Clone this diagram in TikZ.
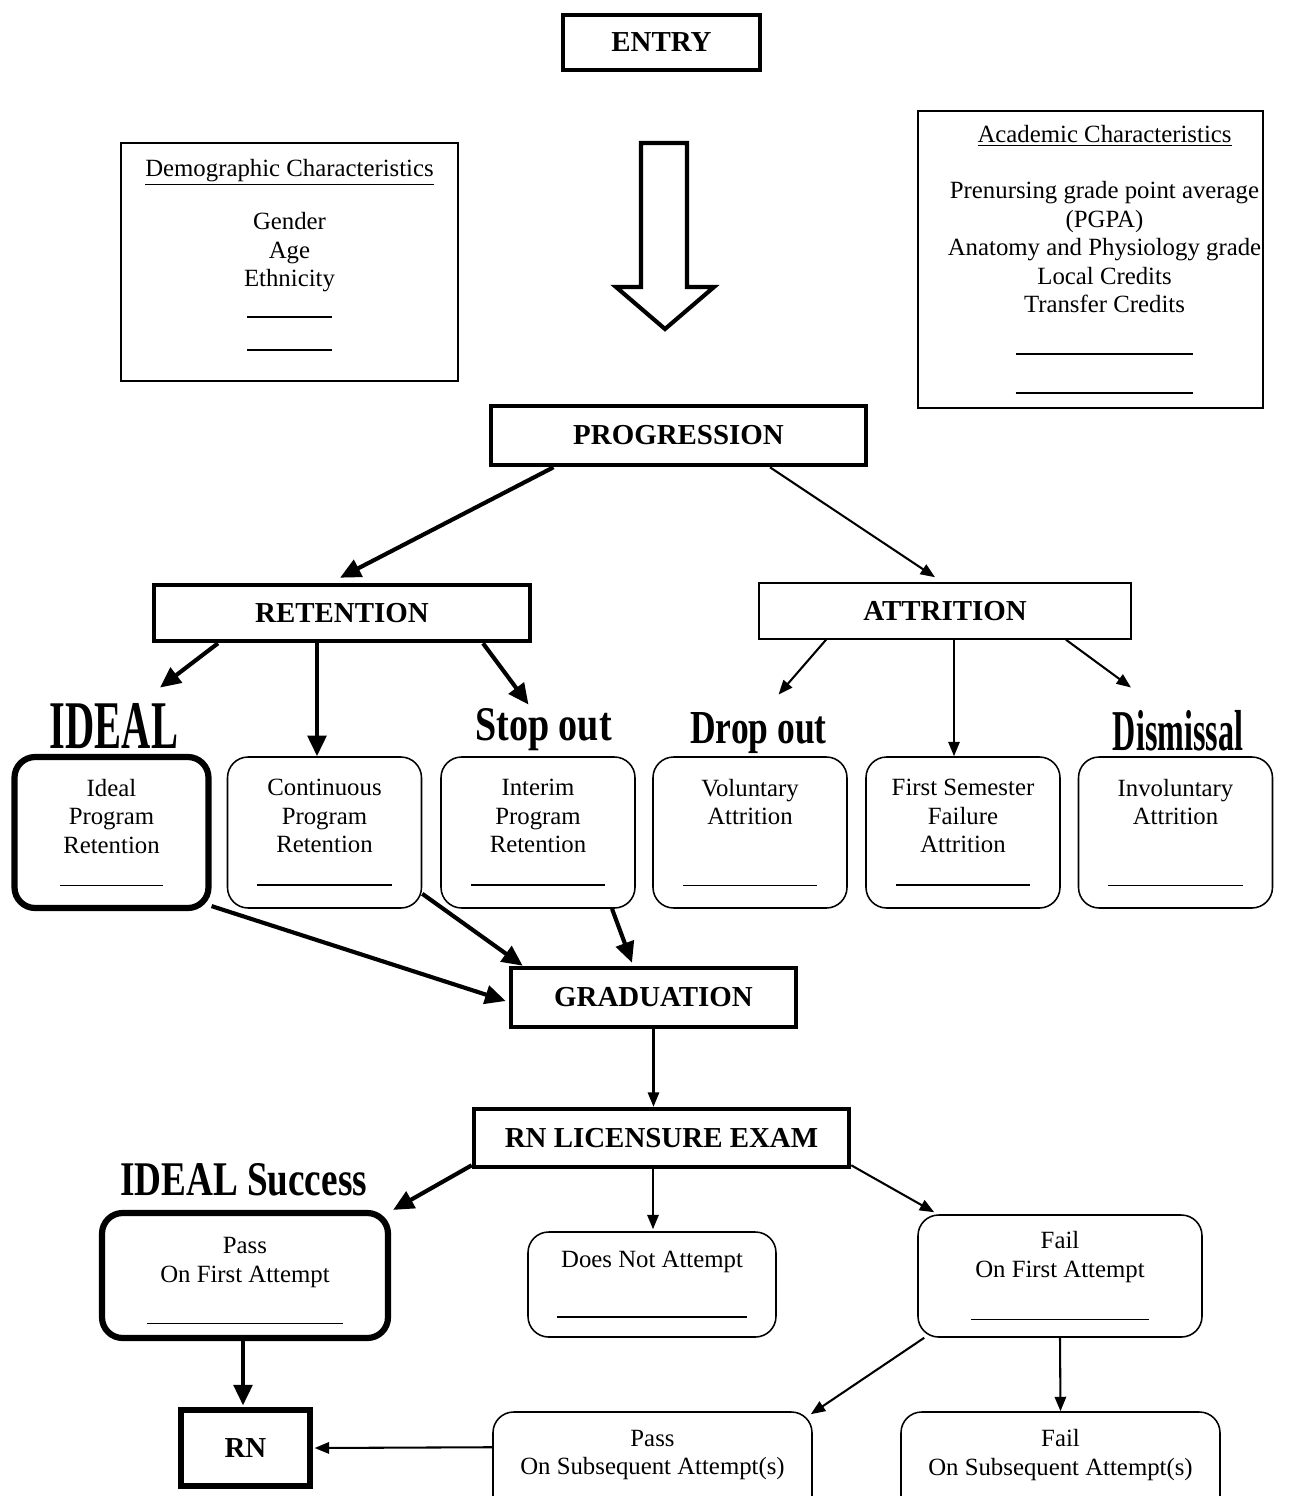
\documentclass[tikz,border=0pt]{standalone}
\usepackage{fontspec}
\setmainfont{Liberation Serif}
\usepackage{graphicx}
\usetikzlibrary{arrows.meta,calc}
\newcommand{\pxu}{0.484pt}
\newcommand{\blank}[1]{\rule{#1}{0.7pt}}
\newcommand{\nudge}{\hspace*{13.55pt}}
\newcommand{\squeeze}[3]{\resizebox{#1}{#2}{\bfseries #3}}

\begin{document}
\begin{tikzpicture}[x=0.484pt,y=-0.484pt,
  dims/.style 2 args={minimum width=#1*\pxu,minimum height=#2*\pxu},
  gate/.style={draw,line width=2.2pt,inner sep=0pt,font=\bfseries\fontsize{14}{16}\selectfont},
  info/.style={draw,line width=0.75pt,inner sep=0pt,align=center,font=\fontsize{12}{13.8}\selectfont},
  cell/.style={draw,rounded corners=10pt,line width=0.75pt,inner sep=0pt,align=center,
    dims={194}{151},font=\fontsize{12}{13.8}\selectfont},
  tag/.style={inner sep=0pt,anchor=base},
  flow/.style={-{Triangle[length=10pt,width=9pt]},line width=2pt},
  thinflow/.style={-{Triangle[length=7pt,width=5.5pt]},line width=1pt}]
\useasboundingbox (0,0) rectangle (1292,1496);

% top part
\node[gate,dims={197}{55}] (entry) at (661.5,42.5) {ENTRY};
\draw[line width=2pt,line join=miter] (641,143) -- (687,143) -- (687,287) -- (714,287)
  -- (665,329) -- (616,287) -- (641,287) -- cycle;
\node[info,dims={337}{238}] (demo) at (289.5,262)
  {\underline{Demographic Characteristics}\\[11.9pt]Gender\\Age\\Ethnicity\\[1.2pt]\blank{41pt}\\[2.2pt]\blank{41pt}\\[-7pt]\mbox{}};
\node[info,dims={345}{297}] (acad) at (1090.5,259.5)
  {\nudge\underline{Academic Characteristics}\\[13.3pt]
   \nudge Prenursing grade point average\\\nudge(PGPA)\\\nudge Anatomy and Physiology grade\\
   \nudge Local Credits\\\nudge Transfer Credits\\[6.5pt]\nudge\blank{86pt}\\[5.1pt]\nudge\blank{86pt}};
\node[gate,dims={375}{59}] (prog) at (678.5,435.5) {PROGRESSION};
\node[gate,dims={376}{56}] (ret) at (342,613) {RETENTION};
\node[gate,line width=0.75pt,dims={372}{56}] (att) at (945,611) {ATTRITION};

% headings
\node[tag] (tagideal) at (114,748) {\squeeze{62pt}{21.8pt}{IDEAL}};
\node[tag] (tagstop) at (543.5,740) {\squeeze{66pt}{15.5pt}{Stop out}};
\node[tag] (tagdrop) at (758.5,743) {\squeeze{66pt}{15pt}{Drop out}};
\node[tag] (tagdis) at (1178,750) {\squeeze{63pt}{19.4pt}{Dismissal}};

% retention and attrition boxes
\node[cell,line width=3pt] (ideal) at (111.5,832.5) {Ideal\\Program\\Retention\\[2.2pt]\blank{50pt}};
\node[cell] (cont) at (324.5,832.5) {Continuous\\Program\\Retention\\[2.2pt]\blank{65pt}};
\node[cell] (inter) at (538,832.5) {Interim\\Program\\Retention\\[2.2pt]\blank{65pt}};
\node[cell] (vol) at (750,832.5) {Voluntary\\Attrition\\~\\[2.2pt]\blank{65pt}};
\node[cell] (fsf) at (963,832.5) {First Semester\\Failure\\Attrition\\[2.2pt]\blank{65pt}};
\node[cell] (invol) at (1175.5,832.5) {Involuntary\\Attrition\\~\\[2.2pt]\blank{65pt}};

% graduation and licensure
\node[gate,dims={285}{59}] (grad) at (653.5,997.5) {GRADUATION};
\node[gate,dims={375}{58}] (rnle) at (661.5,1138) {RN LICENSURE EXAM};
\node[tag] (tagsucc) at (243.5,1195) {\squeeze{119.5pt}{15.5pt}{IDEAL Success}};
\node[cell,line width=3pt,dims={286}{125}] (passf) at (245,1275.5) {\rule{0pt}{13pt}Pass\\On First Attempt\\[6.5pt]\blank{95pt}};
\node[cell,dims={248}{105}] (dna) at (652,1284.5) {Does Not Attempt\\[10.4pt]\blank{92pt}};
\node[cell,dims={284}{122}] (failf) at (1060,1276) {Fail\\On First Attempt\\[7pt]\blank{86pt}};
\node[gate,line width=2.5pt,dims={129}{76}] (rn) at (245.5,1448) {RN};
\node[cell,dims={319}{128}] (passs) at (652.5,1476) {Pass\\On Subsequent Attempt(s)\\[9pt]\mbox{}};
\node[cell,dims={319}{128}] (fails) at (1060.5,1476) {Fail\\On Subsequent Attempt(s)\\[9pt]\mbox{}};

% connectors
\draw[flow] ($(prog.south)+(-125,0)$) -- ($(ret.north)+(-2,-5)$);
\draw[thinflow] ($(prog.south)+(91.5,0)$) -- ($(att.north)+(-10,-5)$);
\draw[flow] ($(ret.south)+(-124,0)$) -- ($(tagideal.north)+(46,-15)$);
\draw[flow] ($(ret.south)+(-25,0)$) -- ($(cont.north)+(-7.5,0)$);
\draw[flow] ($(ret.south)+(141,0)$) -- ($(tagstop.north)+(-15,-3)$);
\draw[thinflow] ($(att.south)+(-119,0)$) -- ($(tagdrop.north)+(20,-17)$);
\draw[thinflow] ($(att.south)+(9,0)$) -- ($(fsf.north)+(-9,0)$);
\draw[thinflow] ($(att.south)+(121,0)$) -- ($(tagdis.north)+(-47,-22)$);
\draw[flow] ($(ideal.south east)+(0,-5)$) -- ($(grad.west)+(-3,3.5)$);
\draw[flow] ($(cont.south east)+(0,-15)$) -- ($(grad.north west)+(14,0)$);
\draw[flow] ($(inter.south)+(74,0)$) -- ($(grad.north)+(-21.5,-3)$);
\draw[thinflow] (grad.south) -- ($(rnle.north)+(-8,0)$);
\draw[flow] ($(rnle.south west)+(0,-4)$) -- ($(passf.north east)+(2,0)$);
\draw[thinflow] ($(rnle.south)+(-8.5,0)$) -- ($(dna.north)+(1,-2)$);
\draw[thinflow] ($(rnle.south east)+(0,-4)$) -- ($(failf.north west)+(17,-2)$);
\draw[flow] ($(passf.south)+(-2,0)$) -- ($(rn.north)+(-2.5,-2)$);
\draw[thinflow] ($(failf.south west)+(7,0)$) -- ($(passs.north east)+(-2,3)$);
\draw[thinflow] (failf.south) -- (fails.north);
\draw[thinflow] ($(passs.north west)+(0,36)$) -- ($(rn.east)+(2,0)$);
\end{tikzpicture}
\end{document}
